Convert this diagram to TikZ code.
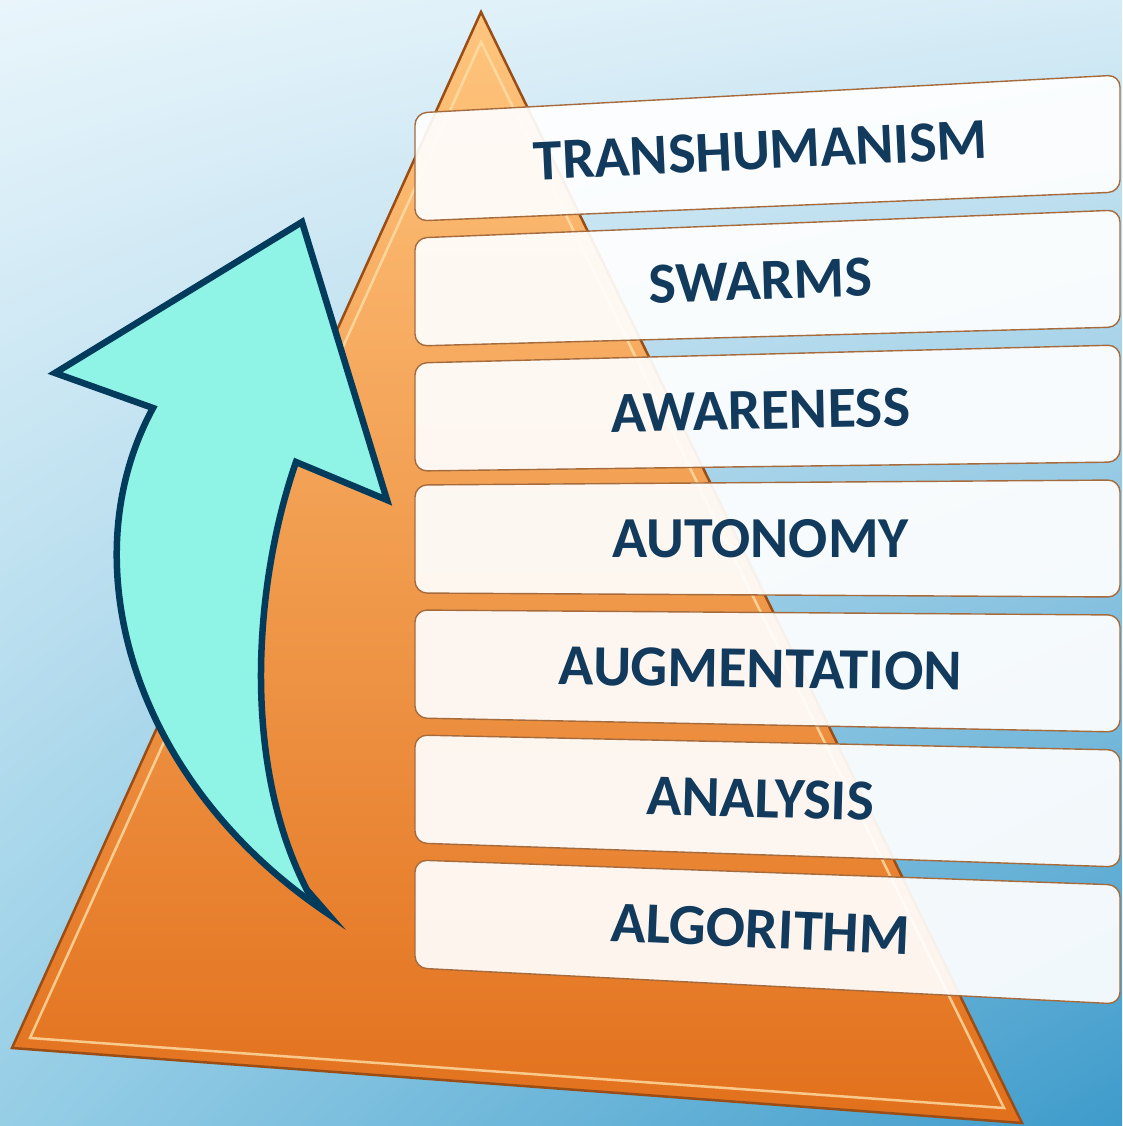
\documentclass[tikz,border=0pt]{standalone}
\usepackage{fontspec}
\setmainfont{Carlito}
\usepackage{tikz}
\usetikzlibrary{calc, shadings}
\tikzset{>=latex}
\definecolor{skytl}{HTML}{E9F5FB}
\definecolor{skytr}{HTML}{D6ECF6}
\definecolor{skybl}{HTML}{96CEE6}
\definecolor{skybr}{HTML}{3E9BCB}
\definecolor{pyrtop}{HTML}{FFC57E}
\definecolor{pyrmid}{HTML}{FBA04A}
\definecolor{pyrbot}{HTML}{E2701C}
\definecolor{pyredge}{HTML}{9A4E16}
\definecolor{pyrlight}{HTML}{FFDFA8}
\definecolor{bandedge}{HTML}{A66B3C}
\definecolor{tiertext}{HTML}{113A5C}
\definecolor{arrowfill}{HTML}{8FF3E5}
\definecolor{arrowline}{HTML}{023B5C}
\tikzset{band/.style={draw=bandedge, line width=1.4pt, fill=white, fill opacity=0.92, rounded corners=12pt},
  tier/.style={font=\bfseries\fontsize{58}{58}\selectfont, text=tiertext, sloped, pos=0.49, inner sep=0pt}}

\begin{document}
\begin{tikzpicture}[x=1pt, y=-1pt]
\useasboundingbox (0,0) rectangle (1122,1126);
\shade[upper left=skytl, upper right=skytr, lower left=skybl, lower right=skybr] (0,0) rectangle (1122,1126);

% pyramid
\coordinate (apex) at (481,12);
\coordinate (baseL) at (12,1048);
\coordinate (baseR) at (1022,1123);
\shade[top color=pyrtop, middle color=pyrmid, bottom color=pyrbot] (apex) -- (baseR) -- (baseL) -- cycle;
\draw[pyrlight, line width=2.5pt, opacity=0.8] (481,42) -- (1004,1108) -- (30,1038) -- cycle;
\draw[pyredge, line width=2.5pt] (apex) -- (baseR) -- (baseL) -- cycle;

% tiers
\draw[band] (415,113) -- (1120,75) -- (1120,192) -- (415,221) -- cycle;
\draw[band] (415,238) -- (1120,210) -- (1120,327) -- (415,346) -- cycle;
\draw[band] (415,363) -- (1120,345) -- (1120,462) -- (415,471) -- cycle;
\draw[band] (415,485) -- (1120,480) -- (1120,597) -- (415,593) -- cycle;
\draw[band] (415,610) -- (1120,615) -- (1120,732) -- (415,718) -- cycle;
\draw[band] (415,735) -- (1120,750) -- (1120,867) -- (415,843) -- cycle;
\draw[band] (415,860) -- (1120,885) -- (1120,1004) -- (415,968) -- cycle;

\path (415,167) -- (1120,133.5) node[tier] (trans) {TRANSHUMANISM};
\path (415,292) -- (1120,268.5) node[tier] (swarm) {SWARMS};
\path (415,417) -- (1120,403.5) node[tier] (aware) {AWARENESS};
\path (415,539) -- (1120,538.5) node[tier] (auton) {AUTONOMY};
\path (415,664) -- (1120,673.5) node[tier] (augm) {AUGMENTATION};
\path (415,789) -- (1120,808.5) node[tier] (anal) {ANALYSIS};
\path (415,914) -- (1120,944.5) node[tier] (algo) {ALGORITHM};

% rising arrow
\draw[arrowline, fill=arrowfill, line width=6.5pt] (302,222) -- (387,500) -- (296,462)
  .. controls (255,580) and (240,760) .. (307,890) -- (327,913)
  .. controls (130,780) and (70,560) .. (153,408) -- (55,373) -- cycle;
\end{tikzpicture}
\end{document}
